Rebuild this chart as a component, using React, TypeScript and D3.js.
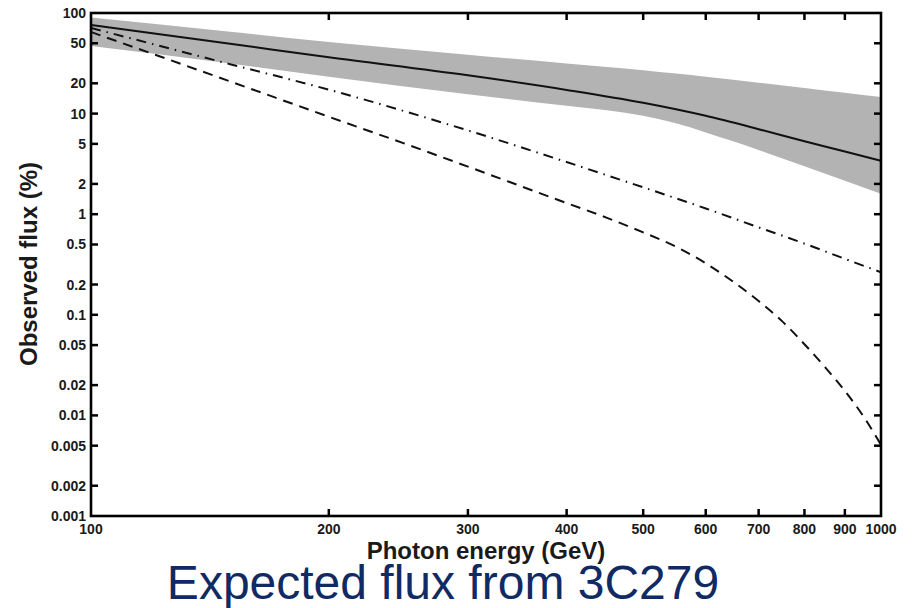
import React from "react";
import * as d3 from "d3";

// Photon energies (GeV) at which the curves are sampled
const energyBand = [100, 150, 200, 300, 400, 450, 500, 550, 600, 650, 700, 800, 900, 1000];
// Shaded uncertainty band (observed flux, %)
const bandUpper = [90, 65, 51.5, 38.5, 31.5, 29, 27, 25, 23.3, 21.7, 20.3, 18, 16.1, 14.6];
const bandLower = [47, 31.5, 23.3, 15.6, 12.0, 10.8, 9.5, 8.0, 6.5, 5.3, 4.35, 3.0, 2.15, 1.6];

// Central prediction (solid)
const energySolid = [100, 150, 200, 300, 400, 500, 600, 700, 800, 900, 1000];
const fluxSolid = [76, 49.5, 36.3, 24, 17.2, 12.8, 9.5, 7.0, 5.3, 4.2, 3.4];

// Dash-dot model
const energyDashDot = [100, 150, 200, 300, 400, 500, 600, 700, 800, 900, 1000];
const fluxDashDot = [71, 31, 17.3, 6.8, 3.3, 1.85, 1.14, 0.74, 0.51, 0.36, 0.265];

// Dashed model
const energyDashed = [100, 150, 200, 250, 300, 350, 400, 450, 500, 550, 600, 650, 700, 750, 800, 850, 900, 950, 1000];
const fluxDashed = [64.7, 20.9, 9.3, 5.0, 2.97, 1.9, 1.29, 0.92, 0.66, 0.475, 0.325, 0.213, 0.137, 0.086, 0.051, 0.03, 0.0175, 0.0098, 0.0051];

// Axis ticks
const xTicks = [100, 200, 300, 400, 500, 600, 700, 800, 900, 1000];
const yTicks = [100, 50, 20, 10, 5, 2, 1, 0.5, 0.2, 0.1, 0.05, 0.02, 0.01, 0.005, 0.002, 0.001];
const yTickLabels = ["100", "50", "20", "10", "5", "2", "1", "0.5", "0.2", "0.1", "0.05", "0.02", "0.01", "0.005", "0.002", "0.001"];

const xTitle = "Photon energy (GeV)";
const yTitle = "Observed flux (%)";
const caption = "Expected flux from 3C279";

const W = 912;
const H = 608;
const M = { left: 91, right: 881, top: 13, bottom: 516 };

export default function App() {
  const x = d3.scaleLog().domain([100, 1000]).range([M.left, M.right]);
  const y = d3.scaleLog().domain([0.001, 100]).range([M.bottom, M.top]);

  const area = d3
    .area<number>()
    .x((_, i) => x(energyBand[i]))
    .y0((_, i) => y(bandLower[i]))
    .y1((_, i) => y(bandUpper[i]))
    .curve(d3.curveMonotoneX);

  const line = (xs: number[], ys: number[]) =>
    d3
      .line<number>()
      .x((_, i) => x(xs[i]))
      .y((_, i) => y(ys[i]))
      .curve(d3.curveMonotoneX)(ys) || "";

  const tickLen = 7;
  const font = "'Liberation Sans', Arial, Helvetica, sans-serif";

  return (
    <svg
      width={W}
      height={H}
      style={{ position: "absolute", left: 0, top: 0, background: "#fff" }}
      fontFamily={font}
    >
      <rect x={0} y={0} width={W} height={H} fill="#fff" />
      <defs>
        <clipPath id="plot-clip">
          <rect x={M.left} y={M.top} width={M.right - M.left} height={M.bottom - M.top} />
        </clipPath>
      </defs>

      <g clipPath="url(#plot-clip)">
        <path d={area(bandUpper) || ""} fill="#b3b3b3" stroke="none" />
        <path d={line(energySolid, fluxSolid)} fill="none" stroke="#111" strokeWidth={2} />
        <path
          d={line(energyDashDot, fluxDashDot)}
          fill="none"
          stroke="#111"
          strokeWidth={2}
          strokeDasharray="10,6,1.5,6"
        />
        <path
          d={line(energyDashed, fluxDashed)}
          fill="none"
          stroke="#111"
          strokeWidth={2}
          strokeDasharray="10,7"
        />
      </g>

      {/* ticks on all four sides, pointing inward */}
      <g stroke="#000" strokeWidth={2.5}>
        {xTicks.slice(1, -1).map((t) => (
          <g key={"xt" + t}>
            <line x1={x(t)} x2={x(t)} y1={M.bottom} y2={M.bottom - tickLen} />
            <line x1={x(t)} x2={x(t)} y1={M.top} y2={M.top + tickLen} />
          </g>
        ))}
        {yTicks.slice(1, -1).map((t) => (
          <g key={"yt" + t}>
            <line x1={M.left} x2={M.left + tickLen} y1={y(t)} y2={y(t)} />
            <line x1={M.right} x2={M.right - tickLen} y1={y(t)} y2={y(t)} />
          </g>
        ))}
      </g>

      <rect
        x={M.left}
        y={M.top}
        width={M.right - M.left}
        height={M.bottom - M.top}
        fill="none"
        stroke="#000"
        strokeWidth={2.6}
      />

      {/* tick labels */}
      <g fontSize={14} fontWeight="bold" fill="#1a1a1a">
        {xTicks.map((t) => (
          <text key={"xl" + t} x={x(t)} y={M.bottom + 18} textAnchor="middle">
            {String(t)}
          </text>
        ))}
        {yTicks.map((t, i) => (
          <text
            key={"yl" + t}
            x={M.left - 5}
            y={y(t)}
            textAnchor="end"
            dominantBaseline="central"
          >
            {yTickLabels[i]}
          </text>
        ))}
      </g>

      {/* axis titles */}
      <text
        x={(M.left + M.right) / 2}
        y={559}
        textAnchor="middle"
        fontSize={24}
        fontWeight="bold"
        fill="#1a1a1a"
      >
        {xTitle}
      </text>
      <text
        transform={`translate(37,264) rotate(-90)`}
        textAnchor="middle"
        fontSize={24}
        fontWeight="bold"
        fill="#1a1a1a"
      >
        {yTitle}
      </text>

      <text x={443} y={599} textAnchor="middle" fontSize={48} fill="#102a63">
        {caption}
      </text>
    </svg>
  );
}
